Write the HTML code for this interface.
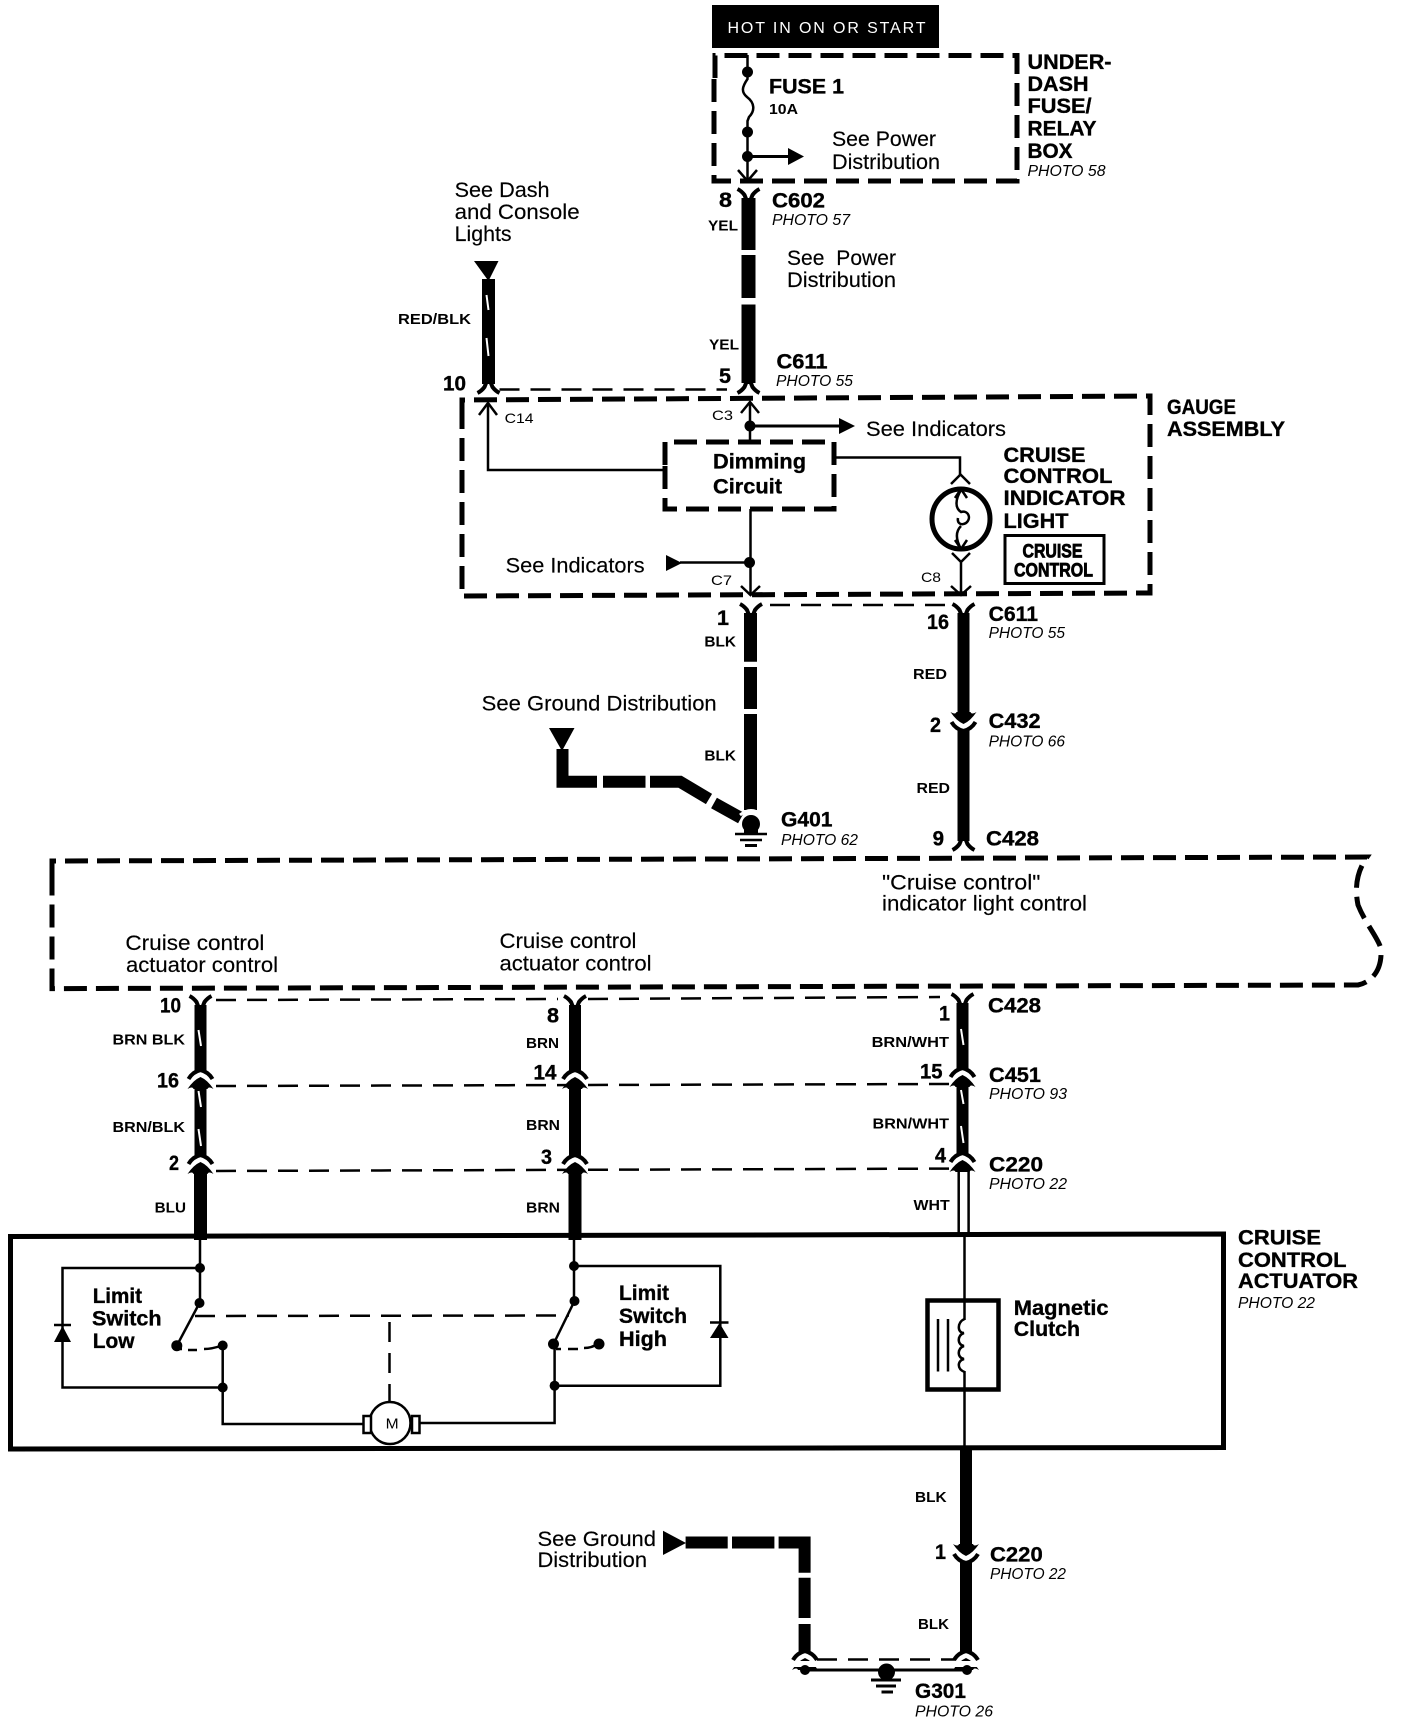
<!DOCTYPE html>
<html><head><meta charset="utf-8"><title>Cruise control circuit diagram</title>
<style>
html,body{margin:0;padding:0;background:#fff}
svg{display:block}
text{font-family:"Liberation Sans",sans-serif;fill:#000}
.b{font-weight:bold;font-size:21px;stroke:#000;stroke-width:.35px}
.n{font-weight:bold;font-size:21px;stroke:#000;stroke-width:.35px}
.w{font-weight:bold;font-size:15px}
.r{font-size:21px;stroke:#000;stroke-width:.15px}
.i{font-style:italic;font-size:16px}
.c{font-size:14px}
.t{fill:none;stroke:#000;stroke-linecap:butt;stroke-linejoin:miter}
.d{fill:none;stroke:#000;stroke-width:5;stroke-dasharray:23 9}
.h{fill:none;stroke:#000;stroke-width:2.5;stroke-dasharray:20 11}
.l{fill:none;stroke:#000;stroke-width:2.5}
.s{fill:none;stroke:#fff;stroke-width:2}
</style></head><body>
<svg xmlns="http://www.w3.org/2000/svg" width="1408" height="1724" viewBox="0 0 1408 1724">
<defs>
<path id="yt" d="M-11 -1 Q-7 1 -4 5 L-2 10 H2 L4 5 Q7 1 11 -1" fill="none" stroke="#000" stroke-width="4"/>
<path id="yb" d="M-11 1 Q-7 -1 -4 -5 L-2 -10 H2 L4 -5 Q7 -1 11 1" fill="none" stroke="#000" stroke-width="4"/>
<g id="m"><path d="M-12 -1 Q-8 -8 0 -10 Q8 -8 12 -1" fill="none" stroke="#000" stroke-width="4"/><path d="M-13 9 Q-7 0 0 -3 Q7 0 13 9 Q8 6 7 9 H-7 Q-8 6 -13 9Z" fill="#000"/></g>
<g id="n"><path d="M-12 1 Q-8 8 0 10 Q8 8 12 1" fill="none" stroke="#000" stroke-width="4"/><path d="M-13 -9 Q-7 0 0 3 Q7 0 13 -9 Q8 -6 7 -9 H-7 Q-8 -6 -13 -9Z" fill="#000"/></g>
</defs>

<!-- HOT box -->
<rect x="712" y="5" width="227" height="43" fill="#000"/>
<text x="727.500" y="33" font-size="16" textLength="198" lengthAdjust="spacing" style="fill:#fff">HOT IN ON OR START</text>

<!-- under-dash box -->
<path class="d" d="M715 78 V55.500 H1017 V181 H714 V78"/>
<path class="l" d="M747.500 55 V79 C742 87 741 92 747 97 C755 103 755 111 749 117 L747.500 121 V181"/>
<circle cx="747.500" cy="72" r="5.500"/><circle cx="747.500" cy="132" r="5.500"/><circle cx="747.500" cy="156.500" r="5.500"/>
<path d="M747 156.500 H790" stroke="#000" stroke-width="3"/><path d="M788 148 L804 156.500 L788 165Z"/>
<path class="l" d="M738 170 L747.500 181 L757 170"/>
<text class="b" x="769" y="93.700" textLength="75" lengthAdjust="spacingAndGlyphs">FUSE 1</text>
<text class="w" x="769" y="113.900" textLength="29" lengthAdjust="spacingAndGlyphs">10A</text>
<text class="r" x="832" y="146" textLength="104" lengthAdjust="spacingAndGlyphs">See Power</text>
<text class="r" x="832" y="169" textLength="108" lengthAdjust="spacingAndGlyphs">Distribution</text>
<text class="b" x="1027.500" y="69" textLength="84" lengthAdjust="spacingAndGlyphs">UNDER-</text>
<text class="b" x="1027.500" y="91" textLength="61" lengthAdjust="spacingAndGlyphs">DASH</text>
<text class="b" x="1027.500" y="113" textLength="64" lengthAdjust="spacingAndGlyphs">FUSE/</text>
<text class="b" x="1027.500" y="135.600" textLength="69" lengthAdjust="spacingAndGlyphs">RELAY</text>
<text class="b" x="1027.500" y="158" textLength="45" lengthAdjust="spacingAndGlyphs">BOX</text>
<text class="i" x="1027.500" y="176" textLength="78" lengthAdjust="spacingAndGlyphs">PHOTO 58</text>

<!-- YEL wire -->
<use href="#yt" x="748.500" y="190"/>
<path class="t" stroke-width="14" d="M748.500 198 V250 M748.500 255 V298 M748.500 304.500 V383"/>
<use href="#yb" x="748.500" y="392"/>
<text class="n" x="719" y="207" textLength="13" lengthAdjust="spacingAndGlyphs">8</text>
<text class="w" x="708" y="230.500" textLength="30" lengthAdjust="spacingAndGlyphs">YEL</text>
<text class="b" x="772" y="207.600" textLength="53" lengthAdjust="spacingAndGlyphs">C602</text>
<text class="i" x="772" y="225" textLength="78" lengthAdjust="spacingAndGlyphs">PHOTO 57</text>
<text class="r" x="787" y="265" textLength="109" xml:space="preserve" lengthAdjust="spacing">See  Power</text>
<text class="r" x="787" y="287" textLength="109" lengthAdjust="spacingAndGlyphs">Distribution</text>
<text class="w" x="709" y="349.500" textLength="30" lengthAdjust="spacingAndGlyphs">YEL</text>
<text class="b" x="776.500" y="368.500" textLength="51" lengthAdjust="spacingAndGlyphs">C611</text>
<text class="i" x="776" y="386" textLength="77" lengthAdjust="spacingAndGlyphs">PHOTO 55</text>
<text class="n" x="719" y="383" textLength="12" lengthAdjust="spacingAndGlyphs">5</text>

<!-- RED/BLK -->
<path d="M474 261 H498.500 L488.500 281Z"/>
<path class="t" stroke-width="13" d="M488.500 279 V384"/>
<path class="s" d="M486.500 295 L488.500 310 M486.500 338 L488.500 356"/>
<use href="#yb" x="488.500" y="392"/>
<text class="r" x="454.600" y="197" textLength="95" lengthAdjust="spacingAndGlyphs">See Dash</text>
<text class="r" x="454.600" y="219" textLength="125" lengthAdjust="spacingAndGlyphs">and Console</text>
<text class="r" x="454.600" y="241" textLength="57" lengthAdjust="spacingAndGlyphs">Lights</text>
<text class="w" x="398" y="324" textLength="73" lengthAdjust="spacingAndGlyphs">RED/BLK</text>
<text class="n" x="443" y="390.700" textLength="23" lengthAdjust="spacingAndGlyphs">10</text>
<path class="h" d="M499.500 389.500 H727"/>

<!-- Gauge assembly -->
<path class="d" d="M462 420 V400 L1150 396 V593 L462 596 V420"/>
<text class="b" x="1167" y="414" textLength="69" lengthAdjust="spacingAndGlyphs">GAUGE</text>
<text class="b" x="1167" y="436" textLength="118" lengthAdjust="spacingAndGlyphs">ASSEMBLY</text>

<path class="l" d="M488 403 V470 H664"/>
<path class="l" d="M479 415 L488 403 L497 415"/>
<text class="c" x="504.600" y="423" textLength="29" lengthAdjust="spacingAndGlyphs">C14</text>
<text class="c" x="712" y="420" textLength="21" lengthAdjust="spacingAndGlyphs">C3</text>
<path class="l" d="M750 402 V441"/>
<path class="l" d="M741 413 L750 402 L759 413"/>
<circle cx="750" cy="426" r="5.500"/>
<path d="M750 426 H842" stroke="#000" stroke-width="3"/><path d="M839 418 L855 426 L839 434Z"/>
<text class="r" x="866" y="436" textLength="140" lengthAdjust="spacingAndGlyphs">See Indicators</text>

<path class="d" d="M665 465 V442 H834 V509 H665 V465" stroke-dasharray="18 8"/>
<text class="b" x="713" y="468.600" textLength="93" lengthAdjust="spacingAndGlyphs">Dimming</text>
<text class="b" x="713" y="493.500" textLength="69" lengthAdjust="spacingAndGlyphs">Circuit</text>
<path class="l" d="M834 457.500 H960 V475"/>
<path class="l" d="M951 484 L960.500 474.500 L970 484"/>
<ellipse cx="961" cy="519" rx="29" ry="30" fill="none" stroke="#000" stroke-width="5"/>
<path class="l" d="M961 490 C955 500 955 508 961 512 C968 510 972 518 966 523 C961 526 957 523 958 518 M961 526 C955 532 956 540 961 549" stroke-width="3"/>
<path class="l" d="M955 498 L961 489 L967 498 M955 540 L961 549 L967 540" stroke-width="3"/>
<path class="l" d="M952 553 L961 562 L970 553 M961 562 V595"/>
<path class="l" d="M951 586 L961 595 L971 586"/>
<text class="c" x="921" y="582" textLength="20" lengthAdjust="spacingAndGlyphs">C8</text>
<text class="b" x="1003.500" y="462" textLength="82" lengthAdjust="spacingAndGlyphs">CRUISE</text>
<text class="b" x="1003.500" y="483" textLength="109" lengthAdjust="spacingAndGlyphs">CONTROL</text>
<text class="b" x="1003.500" y="505" textLength="122" lengthAdjust="spacingAndGlyphs">INDICATOR</text>
<text class="b" x="1003.500" y="528" textLength="65" lengthAdjust="spacingAndGlyphs">LIGHT</text>
<rect x="1005" y="535.500" width="99" height="48" fill="none" stroke="#000" stroke-width="3"/>
<text x="1022.500" y="557.500" font-size="19" font-weight="bold" textLength="60" lengthAdjust="spacingAndGlyphs" stroke="#000" stroke-width=".8">CRUISE</text>
<text x="1014" y="576.500" font-size="19" font-weight="bold" textLength="79" lengthAdjust="spacingAndGlyphs" stroke="#000" stroke-width=".8">CONTROL</text>

<text class="r" x="505.600" y="572.500" textLength="139" lengthAdjust="spacingAndGlyphs">See Indicators</text>
<path d="M666 555 L682 563 L666 571Z"/>
<path d="M680 562.500 H750" stroke="#000" stroke-width="2.500"/>
<circle cx="749.500" cy="562.500" r="5.500"/>
<path class="l" d="M750.500 509 V595"/>
<path class="l" d="M741 586 L750.500 595 L760 586"/>
<text class="c" x="711" y="585" textLength="21" lengthAdjust="spacingAndGlyphs">C7</text>

<!-- below gauge -->
<use href="#yt" x="751" y="605"/>
<use href="#yt" x="963.500" y="605"/>
<path class="h" d="M770 605 H951"/>
<path class="t" stroke-width="13" d="M750.500 613 V661.700 M750.500 667 V709 M750.500 714 V810"/>
<path class="t" stroke-width="12" d="M963.500 613 V712"/>
<use href="#n" x="963.500" y="721"/>
<path class="t" stroke-width="12" d="M963.500 730 V841"/>
<use href="#yb" x="963.500" y="849"/>
<text class="n" x="717" y="625" textLength="12" lengthAdjust="spacingAndGlyphs">1</text>
<text class="w" x="704.400" y="646.700" textLength="31.600" lengthAdjust="spacingAndGlyphs">BLK</text>
<text class="w" x="704.400" y="760.700" textLength="31.600" lengthAdjust="spacingAndGlyphs">BLK</text>
<text class="n" x="927" y="629" textLength="22" lengthAdjust="spacingAndGlyphs">16</text>
<text class="b" x="988.600" y="621" textLength="49.400" lengthAdjust="spacingAndGlyphs">C611</text>
<text class="i" x="988.600" y="638" textLength="76.400" lengthAdjust="spacingAndGlyphs">PHOTO 55</text>
<text class="w" x="913" y="679" textLength="34" lengthAdjust="spacingAndGlyphs">RED</text>
<text class="w" x="916.500" y="793" textLength="33.500" lengthAdjust="spacingAndGlyphs">RED</text>
<text class="n" x="930" y="732" textLength="11" lengthAdjust="spacingAndGlyphs">2</text>
<text class="b" x="988.600" y="728" textLength="52" lengthAdjust="spacingAndGlyphs">C432</text>
<text class="i" x="988.600" y="746.700" textLength="76.400" lengthAdjust="spacingAndGlyphs">PHOTO 66</text>
<text class="n" x="932.600" y="845.700" textLength="11.400" lengthAdjust="spacingAndGlyphs">9</text>
<text class="b" x="986" y="845.700" textLength="53" lengthAdjust="spacingAndGlyphs">C428</text>

<text class="r" x="481.700" y="710.700" textLength="235" lengthAdjust="spacingAndGlyphs">See Ground Distribution</text>
<path d="M549 728 H574.500 L562 751Z"/>
<path class="t" stroke-width="12" d="M562.500 749 V781.700 H597 M603 781.700 H645.500 M650 781.700 H680 L709 799 M714 803 L741 818"/>
<path d="M740 815 Q751 806 762 815" fill="none" stroke="#fff" stroke-width="3"/>
<circle cx="751" cy="824" r="9"/>
<rect x="744" y="824" width="14" height="9"/>
<path class="l" d="M735 834 H767 M740 840 H762" stroke-width="3"/>
<path d="M745 845.500 H757" stroke="#000" stroke-width="3"/>
<text class="b" x="781" y="826.700" textLength="51.500" lengthAdjust="spacingAndGlyphs">G401</text>
<text class="i" x="781" y="845" textLength="77" lengthAdjust="spacingAndGlyphs">PHOTO 62</text>

<!-- big dashed boundary -->
<path class="d" d="M52 880 V861 L1367 857 C1358 870 1354 885 1358 905 C1366 925 1380 940 1381 950 C1382 970 1372 982 1358 985 L52 988.600 V880"/>
<text class="r" x="882" y="889.300" textLength="158.500" lengthAdjust="spacingAndGlyphs">"Cruise control"</text>
<text class="r" x="882" y="910.700" textLength="205" lengthAdjust="spacingAndGlyphs">indicator light control</text>
<text class="r" x="125.400" y="950" textLength="139" lengthAdjust="spacingAndGlyphs">Cruise control</text>
<text class="r" x="126" y="972" textLength="152" lengthAdjust="spacingAndGlyphs">actuator control</text>
<text class="r" x="499.500" y="948" textLength="137" lengthAdjust="spacingAndGlyphs">Cruise control</text>
<text class="r" x="499.500" y="970.400" textLength="152" lengthAdjust="spacingAndGlyphs">actuator control</text>

<!-- three wire bundles -->
<path class="h" d="M216 1000 L558 999 M588 999 L940 997"/>
<path class="h" d="M216 1086 L950 1084"/>
<path class="h" d="M216 1171 L950 1168.600"/>
<!-- left -->
<use href="#yt" x="200.500" y="997"/>
<path class="t" stroke-width="12" d="M200.500 1005 V1071 M200.500 1087 V1156"/>
<path class="s" d="M198.500 1030 L201 1046 M198.500 1091 L201 1107 M198.500 1129 L201 1146"/>
<use href="#m" x="200.500" y="1080"/>
<use href="#m" x="200.500" y="1165"/>
<path class="t" stroke-width="13" d="M200.500 1173 V1240"/>
<!-- centre -->
<use href="#yt" x="575" y="997"/>
<path class="t" stroke-width="12" d="M575 1005 V1071 M575 1087 V1156"/>
<use href="#m" x="575" y="1080"/>
<use href="#m" x="575" y="1165"/>
<path class="t" stroke-width="13" d="M575 1173 V1240"/>
<!-- right -->
<use href="#yt" x="962.500" y="995"/>
<path class="t" stroke-width="12" d="M962.500 1003 V1070 M962.500 1086 V1155"/>
<path class="s" d="M961 1029 L963.500 1045 M961 1090 L963.500 1104 M961 1126 L963.500 1143"/>
<use href="#m" x="962.500" y="1078"/>
<use href="#m" x="962.500" y="1163"/>
<path class="l" d="M958.700 1170 V1234 M968.600 1170 V1234" stroke-width="3.500"/>

<text class="n" x="160" y="1012.500" textLength="21" lengthAdjust="spacingAndGlyphs">10</text>
<text class="w" x="112.500" y="1044.600" textLength="72.500" lengthAdjust="spacingAndGlyphs">BRN BLK</text>
<text class="n" x="157" y="1087.500" textLength="22" lengthAdjust="spacingAndGlyphs">16</text>
<text class="w" x="112.500" y="1132" textLength="72.500" lengthAdjust="spacingAndGlyphs">BRN/BLK</text>
<text class="n" x="169" y="1170" textLength="10" lengthAdjust="spacingAndGlyphs">2</text>
<text class="w" x="154.700" y="1212.500" textLength="31.300" lengthAdjust="spacingAndGlyphs">BLU</text>
<text class="n" x="547" y="1022.500" textLength="12" lengthAdjust="spacingAndGlyphs">8</text>
<text class="w" x="526" y="1048" textLength="33" lengthAdjust="spacingAndGlyphs">BRN</text>
<text class="n" x="533.500" y="1079.300" textLength="23" lengthAdjust="spacingAndGlyphs">14</text>
<text class="w" x="526" y="1130" textLength="34" lengthAdjust="spacingAndGlyphs">BRN</text>
<text class="n" x="541" y="1164" textLength="11" lengthAdjust="spacingAndGlyphs">3</text>
<text class="w" x="526" y="1212.500" textLength="34" lengthAdjust="spacingAndGlyphs">BRN</text>
<text class="b" x="988" y="1012.500" textLength="53" lengthAdjust="spacingAndGlyphs">C428</text>
<text class="n" x="939" y="1020.700" textLength="11" lengthAdjust="spacingAndGlyphs">1</text>
<text class="w" x="871.600" y="1047" textLength="77.400" lengthAdjust="spacingAndGlyphs">BRN/WHT</text>
<text class="n" x="920" y="1078.600" textLength="22.500" lengthAdjust="spacingAndGlyphs">15</text>
<text class="b" x="989" y="1082" textLength="52" lengthAdjust="spacingAndGlyphs">C451</text>
<text class="i" x="989" y="1099" textLength="78" lengthAdjust="spacingAndGlyphs">PHOTO 93</text>
<text class="w" x="872.500" y="1128.600" textLength="76.500" lengthAdjust="spacingAndGlyphs">BRN/WHT</text>
<text class="n" x="935" y="1162.500" textLength="11" lengthAdjust="spacingAndGlyphs">4</text>
<text class="b" x="989" y="1171.400" textLength="54" lengthAdjust="spacingAndGlyphs">C220</text>
<text class="i" x="989" y="1189" textLength="78" lengthAdjust="spacingAndGlyphs">PHOTO 22</text>
<text class="w" x="913.500" y="1210" textLength="36.200" lengthAdjust="spacingAndGlyphs">WHT</text>

<!-- actuator box -->
<path d="M10.500 1236.500 L1223.500 1234 V1447.500 L10.500 1449Z" fill="none" stroke="#000" stroke-width="5"/>
<text class="b" x="1238" y="1244.600" textLength="83" lengthAdjust="spacingAndGlyphs">CRUISE</text>
<text class="b" x="1238" y="1267" textLength="108.500" lengthAdjust="spacingAndGlyphs">CONTROL</text>
<text class="b" x="1238" y="1288" textLength="120" lengthAdjust="spacingAndGlyphs">ACTUATOR</text>
<text class="i" x="1238" y="1308" textLength="77" lengthAdjust="spacingAndGlyphs">PHOTO 22</text>

<!-- magnetic clutch -->
<path class="l" d="M964.500 1234 V1320 M964.500 1371 V1448"/>
<rect x="927.500" y="1300.500" width="71" height="89" fill="none" stroke="#000" stroke-width="4.500"/>
<path class="l" d="M938 1319 V1371.500 M948 1319 V1371.500" stroke-width="2"/>
<path class="l" d="M964.500 1319 C957 1322 957 1333 964 1333 C957 1335 957 1345 964 1346 C957 1348 957 1358 964 1359 C957 1361 957 1369 964.500 1372"/>
<text class="b" x="1013.800" y="1315" textLength="94.800" lengthAdjust="spacingAndGlyphs">Magnetic</text>
<text class="b" x="1013.800" y="1336" textLength="66.200" lengthAdjust="spacingAndGlyphs">Clutch</text>

<!-- left limit switch -->
<path class="l" d="M200 1238 V1303 M200 1268 H62.500 V1387.500 H222.700 M222.700 1345.500 V1424 H363"/>
<circle cx="200" cy="1268" r="5"/><circle cx="199.500" cy="1303" r="5"/>
<circle cx="222.700" cy="1387.500" r="5"/><circle cx="222.700" cy="1345.500" r="5"/>
<circle cx="176.800" cy="1345.700" r="5.500"/>
<path class="l" d="M199.500 1303 L176.800 1345.700" stroke-width="3"/>
<path d="M54 1342 H71 L62.500 1326Z"/><path d="M54 1325 H71" stroke="#000" stroke-width="2.500"/>
<path class="l" d="M177 1349 H182 M188 1350 H197 M204 1349 Q212 1349 222 1345.500" stroke-width="2.500"/>
<text class="b" x="92.700" y="1303" textLength="49.300" lengthAdjust="spacingAndGlyphs">Limit</text>
<text class="b" x="92" y="1325.700" textLength="69.600" lengthAdjust="spacingAndGlyphs">Switch</text>
<text class="b" x="92.700" y="1348" textLength="41.800" lengthAdjust="spacingAndGlyphs">Low</text>

<!-- right limit switch -->
<path class="l" d="M574 1238 V1301 M574 1266 H720.300 V1385.700 H554.600 M554.600 1344.600 V1423 H420"/>
<circle cx="574" cy="1266" r="5"/><circle cx="574.500" cy="1301" r="5"/>
<circle cx="554.600" cy="1385.700" r="5"/><circle cx="553.500" cy="1344" r="5.500"/>
<circle cx="599" cy="1344" r="5.500"/>
<path class="l" d="M574.500 1301 L553.500 1344" stroke-width="3"/>
<path d="M710 1338 H728.500 L719.500 1323Z"/><path d="M710 1322.500 H728.500" stroke="#000" stroke-width="2.500"/>
<path class="l" d="M556 1349 H561 M568 1349 H578 M584 1348 Q592 1348 597 1344"/>
<text class="b" x="619" y="1300" textLength="50" lengthAdjust="spacingAndGlyphs">Limit</text>
<text class="b" x="619" y="1323" textLength="68" lengthAdjust="spacingAndGlyphs">Switch</text>
<text class="b" x="619" y="1346" textLength="48" lengthAdjust="spacingAndGlyphs">High</text>

<!-- mechanical link -->
<path class="h" d="M195 1316 L569 1315.500" stroke-dasharray="20 9" stroke-width="2.500"/>
<path class="h" d="M389.500 1322 V1402" stroke-dasharray="18 9"/>
<!-- motor -->
<ellipse cx="390" cy="1423" rx="20.500" ry="21" fill="#fff" stroke="#000" stroke-width="2.500"/>
<rect x="363.500" y="1416" width="7.500" height="17" fill="#fff" stroke="#000" stroke-width="2.500"/>
<rect x="412" y="1416" width="7.500" height="17" fill="#fff" stroke="#000" stroke-width="2.500"/>
<text x="385.700" y="1428.600" font-size="15" textLength="13" lengthAdjust="spacingAndGlyphs">M</text>

<!-- below actuator -->
<path class="t" stroke-width="12" d="M966 1449 V1544"/>
<use href="#n" x="966" y="1553"/>
<path class="t" stroke-width="12" d="M966 1562 V1653"/>
<use href="#m" x="966" y="1661"/>
<text class="w" x="915" y="1502" textLength="31.600" lengthAdjust="spacingAndGlyphs">BLK</text>
<text class="w" x="918" y="1629" textLength="31" lengthAdjust="spacingAndGlyphs">BLK</text>
<text class="n" x="935" y="1559" textLength="11" lengthAdjust="spacingAndGlyphs">1</text>
<text class="b" x="990" y="1561.700" textLength="52.700" lengthAdjust="spacingAndGlyphs">C220</text>
<text class="i" x="990" y="1579" textLength="76" lengthAdjust="spacingAndGlyphs">PHOTO 22</text>
<text class="r" x="537.500" y="1546" textLength="118.500" lengthAdjust="spacingAndGlyphs">See Ground</text>
<text class="r" x="537.500" y="1567" textLength="109.500" lengthAdjust="spacingAndGlyphs">Distribution</text>
<path d="M663 1530.700 L686 1543 L663 1555Z"/>
<path class="t" stroke-width="12" d="M685.600 1542.500 H727.700 M732 1542.500 H774.400 M778.600 1542.500 H804.600 V1572.700 M804.600 1577.700 V1618 M804.600 1624 V1653"/>
<use href="#m" x="805" y="1661"/>
<rect x="794" y="1661" width="24" height="6" fill="#fff"/>
<rect x="954" y="1661" width="24" height="6" fill="#fff"/>
<path class="h" d="M817 1659.500 H955"/>
<path d="M805 1670 H967" stroke="#000" stroke-width="3"/>
<circle cx="805" cy="1670" r="5"/><circle cx="967" cy="1670" r="5"/>
<circle cx="886.500" cy="1672" r="8.500"/>
<path d="M871 1680 H901 M876 1686 H896" stroke="#000" stroke-width="3"/>
<path d="M881.500 1692 H893" stroke="#000" stroke-width="3"/>
<text class="b" x="915" y="1698" textLength="51" lengthAdjust="spacingAndGlyphs">G301</text>
<text class="i" x="915" y="1716.700" textLength="78" lengthAdjust="spacingAndGlyphs">PHOTO 26</text>
</svg>
</body></html>
